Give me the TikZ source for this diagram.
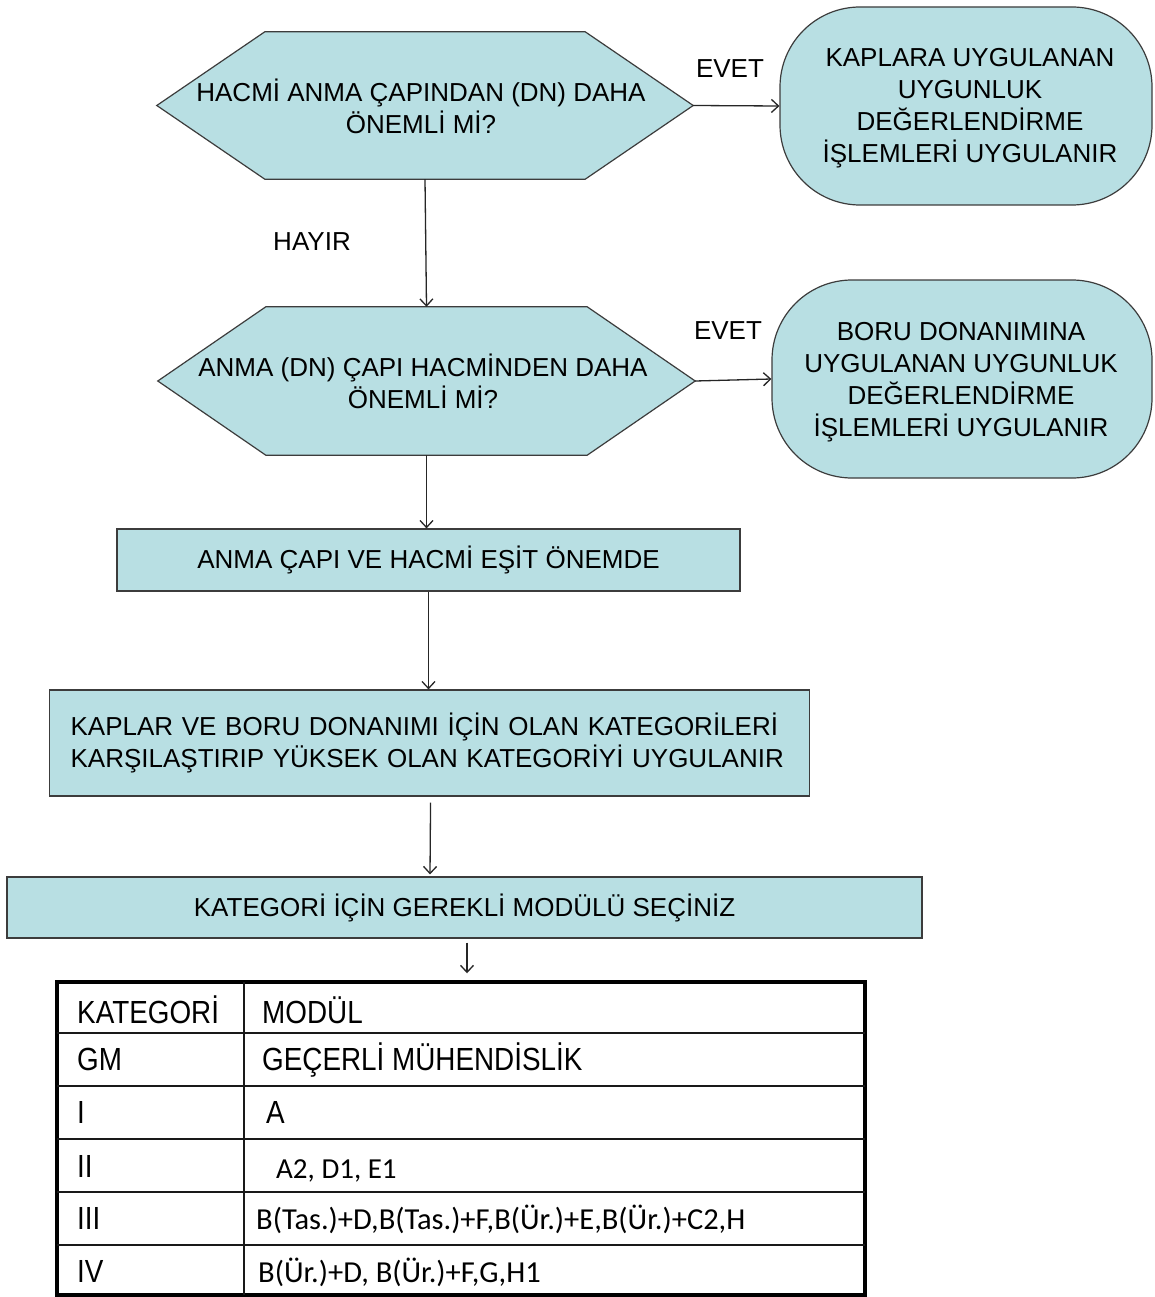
\documentclass[tikz,border=0pt]{standalone}
\usepackage{fontspec}
\setmainfont{Liberation Sans}
\newfontfamily\calib{Carlito}
\newfontfamily\narrowf[FakeStretch=0.87]{Liberation Sans}
\usetikzlibrary{arrows.meta,calc}
\definecolor{boxfill}{RGB}{184,223,227}
\definecolor{boxline}{RGB}{60,60,60}
\begin{document}
\begin{tikzpicture}[x=1pt,y=-1pt,
  flowfill/.style={fill=boxfill,draw=boxline,line width=1.2pt},
  txt/.style={font=\fontsize{26}{32}\selectfont,align=center,inner sep=0pt},
  conn/.style={draw=black!85,line width=1.3pt,-{Straight Barb[length=7pt,width=13pt,line width=1.3pt]}},
  lbl/.style={font=\fontsize{26}{32}\selectfont,inner sep=0pt},
  hdr/.style={font=\narrowf\fontsize{32}{36}\selectfont,inner sep=0pt,anchor=base west},
  cal/.style={font=\calib\fontsize{30.5}{34}\selectfont,inner sep=0pt,anchor=base west},
  grid/.style={draw=black!90,line width=2pt},
]
\useasboundingbox[fill=white] (0,0) rectangle (1154,1297);

% hexagon 1
\node[minimum width=536pt,minimum height=147pt,inner sep=0pt] (h1) at (425,105.5) {};
\draw[flowfill] (h1.west) -- ($(h1.north west)+(108,0)$) -- ($(h1.north east)+(-108,0)$)
  -- (h1.east) -- ($(h1.south east)+(-108,0)$) -- ($(h1.south west)+(108,0)$) -- cycle;
\node[txt] (h1t) at (421,106) {HACMİ ANMA ÇAPINDAN (DN) DAHA\\ÖNEMLİ Mİ?};

% hexagon 2
\node[minimum width=537pt,minimum height=148pt,inner sep=0pt] (h2) at (426.5,381) {};
\draw[flowfill] (h2.west) -- ($(h2.north west)+(108,0)$) -- ($(h2.north east)+(-108,0)$)
  -- (h2.east) -- ($(h2.south east)+(-108,0)$) -- ($(h2.south west)+(108,0)$) -- cycle;
\node[txt] (h2t) at (423,381) {ANMA (DN) ÇAPI HACMİNDEN DAHA\\ÖNEMLİ Mİ?};

% terminators
\node[flowfill,txt,rounded corners=80pt,minimum width=372pt,minimum height=198pt] (t1) at (966,106) {};
\node[txt] (t1t) at (970,108) {KAPLARA UYGULANAN\\UYGUNLUK\\DEĞERLENDİRME\\İŞLEMLERİ UYGULANIR};
\node[flowfill,txt,rounded corners=80pt,minimum width=380pt,minimum height=198pt] (t2) at (962,379) {};
\node[txt] (t2t) at (961,382) {BORU DONANIMINA\\UYGULANAN UYGUNLUK\\DEĞERLENDİRME\\İŞLEMLERİ UYGULANIR};

% rectangles
\node[flowfill,txt,minimum width=623pt,minimum height=62pt] (r1) at (428.5,560) {ANMA ÇAPI VE HACMİ EŞİT ÖNEMDE};
\node[flowfill,txt,align=left,anchor=west,inner xsep=21pt,text width=718pt,minimum height=106pt] (r2) at (49,743)
  {KAPLAR VE BORU DONANIMI İÇİN OLAN KATEGORİLERİ\\KARŞILAŞTIRIP YÜKSEK OLAN KATEGORİYİ UYGULANIR};
\node[flowfill,txt,minimum width=915pt,minimum height=61pt] (r3) at (464.5,907.5) {KATEGORİ İÇİN GEREKLİ MODÜLÜ SEÇİNİZ};

% labels
\node[lbl] (e1) at (730,69) {EVET};
\node[lbl] (e2) at (728,331) {EVET};
\node[lbl] (hy) at (312,242) {HAYIR};

% table
\node[draw=black,line width=3.5pt,minimum width=808pt,minimum height=313pt,inner sep=0pt] (tbl) at (461,1138.5) {};
\draw[grid] (244,982) -- (244,1295);
\foreach \yy in {1033,1086,1139,1192,1245} { \draw[grid] (57,\yy) -- (865,\yy); }
\node[hdr] (c1) at (77,1023) {KATEGORİ};
\node[hdr] (c2) at (262,1023) {MODÜL};
\node[hdr] (c3) at (77,1070) {GM};
\node[hdr] (c4) at (262,1070) {GEÇERLİ MÜHENDİSLİK};
\node[hdr] (c5) at (77,1123) {I};
\node[hdr] (c6) at (266,1123) {A};
\node[hdr] (c7) at (77,1177) {II};
\node[cal,font=\calib\fontsize{29}{34}\selectfont] (c8) at (276,1178) {A2, D1, E1};
\node[hdr] (c9) at (77,1229) {III};
\node[cal] (c10) at (256,1229) {B(Tas.)+D,B(Tas.)+F,B(Ür.)+E,B(Ür.)+C2,H};
\node[hdr] (c11) at (77,1282) {IV};
\node[cal] (c12) at (258,1282) {B(Ür.)+D, B(Ür.)+F,G,H1};

% connectors
\draw[conn] (h1.east) -- (t1.west);
\draw[conn] (h2.east) -- (t2.west);
\draw[conn] (h1.south) -- (h2.north);
\draw[conn] (h2.south) -- (h2.south |- r1.north);
\draw[conn] (r1.south) -- (r2.north -| r1.south);
\draw[conn,shorten <=6pt] ($(r2.south)+(1,0)$) -- ($(r3.north)+(-34.5,-2)$);
\draw[conn,shorten <=4pt,shorten >=7pt] ($(r3.south)+(2.5,0)$) -- ($(tbl.north)+(6,0)$);
\end{tikzpicture}
\end{document}
